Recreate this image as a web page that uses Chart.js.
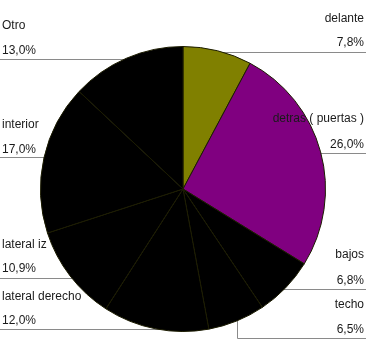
<!DOCTYPE html>
<html><head><meta charset="utf-8">
<script src="https://cdn.jsdelivr.net/npm/chart.js"></script>
<style>html,body{margin:0;padding:0;background:#fff;}canvas{display:block;}</style>
</head><body>
<canvas id="c" width="366" height="343"></canvas>
<script>
const categories = ["delante","detras ( puertas )","bajos","techo","lateral derecho","lateral iz","interior","Otro"];
const values = [7.8, 26.0, 6.8, 6.5, 12.0, 10.9, 17.0, 13.0];
const valueLabels = ["7,8%","26,0%","6,8%","6,5%","12,0%","10,9%","17,0%","13,0%"];
const sliceColors = ["#808000","#800080","#000000","#000000","#000000","#000000","#000000","#000000"];

// label layout: side, name baseline, percent baseline, leader y, optional elbow x
const labelLayout = [
  {side:"r", ny:22, py:46, ly:52},
  {side:"r", ny:122, py:148, ly:153},
  {side:"r", ny:258, py:284, ly:289},
  {side:"r", ny:308, py:333, ly:338, elbow:237},
  {side:"l", ny:300, py:324, ly:329},
  {side:"l", ny:248, py:272, ly:278},
  {side:"l", ny:128, py:153, ly:157},
  {side:"l", ny:29, py:54, ly:59}
];

const leaderPlugin = {
  id: "leaders",
  beforeDatasetsDraw(chart) {
    const ctx = chart.ctx;
    const arc = chart.getDatasetMeta(0).data[0];
    const cx = arc.x, cy = arc.y;
    ctx.save();
    ctx.strokeStyle = "#8a8a8a";
    ctx.lineWidth = 1;
    labelLayout.forEach(l => {
      ctx.beginPath();
      const y = l.ly + 0.5;
      if (l.side === "r") {
        ctx.moveTo(366, y);
        if (l.elbow) { ctx.lineTo(l.elbow + 0.5, y); ctx.lineTo(l.elbow + 0.5, cy); }
        else ctx.lineTo(cx, y);
      } else {
        ctx.moveTo(0, y);
        ctx.lineTo(cx, y);
      }
      ctx.stroke();
    });
    ctx.restore();
  },
  afterDatasetsDraw(chart) {
    const ctx = chart.ctx;
    ctx.save();
    ctx.font = "12px 'Liberation Sans', Arial, sans-serif";
    ctx.fillStyle = "#1a1a1a";
    ctx.textBaseline = "alphabetic";
    labelLayout.forEach((l, i) => {
      if (l.side === "r") { ctx.textAlign = "right"; ctx.fillText(categories[i], 364, l.ny); ctx.fillText(valueLabels[i], 364, l.py); }
      else { ctx.textAlign = "left"; ctx.fillText(categories[i], 2, l.ny); ctx.fillText(valueLabels[i], 2, l.py); }
    });
    ctx.restore();
  }
};

new Chart(document.getElementById("c"), {
  type: "pie",
  data: {
    labels: categories,
    datasets: [{
      data: values,
      backgroundColor: sliceColors,
      borderColor: "#1c1c00",
      borderWidth: 1
    }]
  },
  options: {
    responsive: false,
    animation: false,
    layout: { padding: { top: 46, bottom: 11, left: 0, right: 0 } },
    plugins: { legend: { display: false }, tooltip: { enabled: false } }
  },
  plugins: [leaderPlugin]
});
</script>
</body></html>
